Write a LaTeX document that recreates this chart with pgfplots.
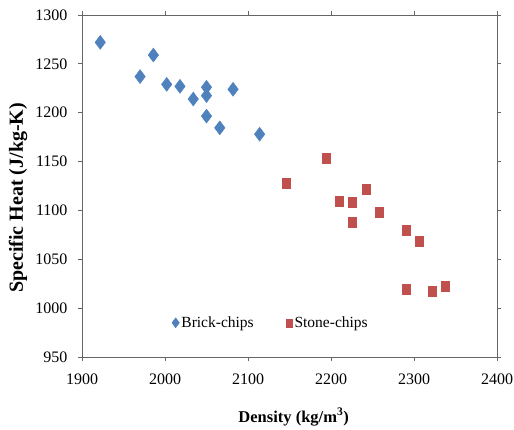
\documentclass[border=0pt]{standalone}
\usepackage{fontspec}
\setmainfont{Liberation Serif}
\usepackage{pgfplots}
\pgfplotsset{compat=1.18}
\definecolor{xlblue}{HTML}{4F81BD}
\definecolor{xlred}{HTML}{C0504D}
\begin{document}
\begin{tikzpicture}
\begin{axis}[
  scale only axis,
  width=415pt, height=342pt,
  xmin=1900, xmax=2400, ymin=950, ymax=1300,
  xtick={1900,2000,...,2400}, ytick={950,1000,...,1300},
  /pgf/number format/assume math mode=true,
  /pgf/number format/set thousands separator={},
  tick label style={font=\fontsize{16}{16}\selectfont},
  yticklabel style={xshift=-7pt},
  xticklabel style={yshift=-18pt, anchor=center},
  tick align=outside, tick style={black!60, line width=0.8pt}, major tick length=4pt,
  axis line style={black!60, line width=0.8pt},
  xlabel={\textbf{Density (kg/m\textsuperscript{3})}},
  ylabel={\textbf{Specific Heat (J/kg-K)}},
  xlabel style={font=\fontsize{16.5}{16.5}\selectfont, at={(axis description cs:0.51,0)}, anchor=center, yshift=-60pt},
  ylabel style={font=\fontsize{20}{20}\selectfont, at={(axis description cs:-0.154,0.465)}, anchor=center},
  legend columns=2,
  legend style={draw=none, fill=none, at={(0.455,0.1)}, anchor=center,
    font=\fontsize{15.5}{15.5}\selectfont, /tikz/every even column/.append style={column sep=30pt}},
  legend cell align=left,
  legend entries={Brick-chips, Stone-chips},
]
\addlegendimage{only marks, mark=diamond*, mark size=5pt, color=xlblue}
\addlegendimage{only marks, mark=square*, mark size=4pt, mark options={xscale=0.85}, color=xlred}
\addplot[forget plot, only marks, mark=diamond*, mark size=7pt, color=xlblue] coordinates {
(1922,1272) (1970,1237) (1986,1259) (2002,1229) (2018,1227) (2034,1214)
(2050,1226) (2050,1217.5) (2050,1196.5) (2066,1184.5) (2082,1224) (2114,1178)
};
\addplot[forget plot, only marks, mark=square*, mark size=5pt, mark options={xscale=0.8}, color=xlred] coordinates {
(2194,1153) (2146,1128) (2242,1122) (2210,1109.5) (2226,1108.5) (2258,1098)
(2226,1087.5) (2290,1080) (2306,1068.5) (2290,1019.5) (2322,1017.5) (2338,1022.5)
};
\end{axis}
\pgfresetboundingbox
\path (current axis.south west) ++(-82pt,-72pt) coordinate (bl);
\path (current axis.north east) ++(17pt,15pt) coordinate (tr);
\path[use as bounding box] (bl) rectangle (tr);
\end{tikzpicture}
\end{document}
